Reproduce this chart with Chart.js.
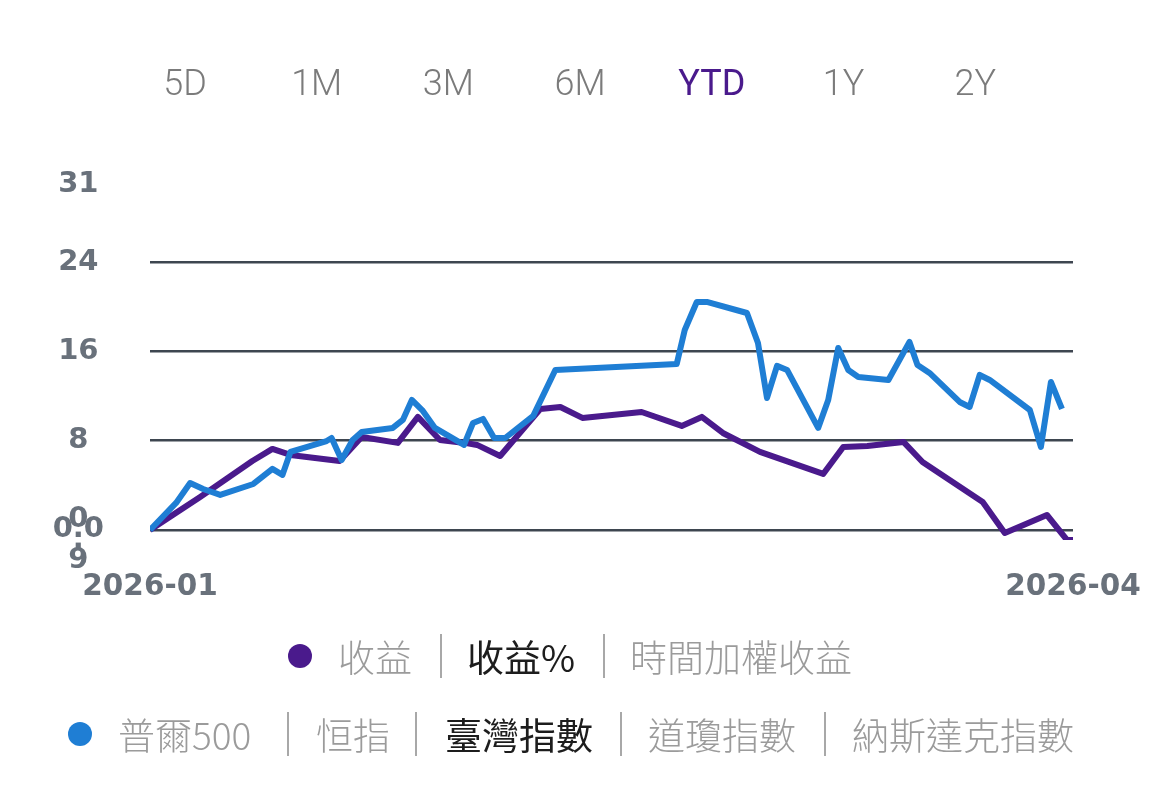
<!DOCTYPE html>
<html>
<head>
<meta charset="utf-8">
<script src="https://cdn.jsdelivr.net/npm/chart.js@4.4.1/dist/chart.umd.min.js"></script>
<style>
  html, body { margin: 0; padding: 0; background: #fff; }
  body { width: 1170px; height: 801px; position: relative; overflow: hidden;
         font-family: Roboto, "Noto Sans CJK TC", sans-serif; }
  #wrap { position: absolute; left: 0; top: 0; width: 1170px; height: 801px; }
  .tab { position: absolute; top: 63px; font-size: 36px; font-weight: 300; color: #7b7b7b;
         transform: translateX(-50%); line-height: 40px; }
  .tab.on { color: #4a1a8c; font-weight: 400; }
  .row { position: absolute; left: 0; width: 1170px; height: 50px; }
  .row span { position: absolute; top: 0; line-height: 50px; font-size: 37px; color: #9b9b9b;
              font-family: "Noto Sans CJK TC", Roboto, sans-serif; font-weight: 300; white-space: nowrap; }
  .row span.on { color: #1d1d1d; font-weight: 400; }
  .row i { position: absolute; top: 3px; width: 2px; height: 44px; background: #a8a8a8; }
  .row b { position: absolute; top: 13px; width: 24px; height: 24px; border-radius: 50%; }
</style>
</head>
<body>
<div id="wrap"><canvas id="grafico" width="1170" height="801"></canvas></div>

<div id="tabs"></div>

<div class="row" style="top:631px">
  <b style="left:288px;background:#4a1a8c"></b>
  <span style="left:338px">收益</span>
  <i style="left:440px"></i>
  <span class="on" style="left:467px">收益%</span>
  <i style="left:603px"></i>
  <span style="left:630px">時間加權收益</span>
</div>
<div class="row" style="top:709px">
  <b style="left:68px;background:#1f7ed4"></b>
  <span style="left:118px">普爾500</span>
  <i style="left:287px"></i>
  <span style="left:316px">恒指</span>
  <i style="left:415px"></i>
  <span class="on" style="left:445px">臺灣指數</span>
  <i style="left:620px"></i>
  <span style="left:648px">道瓊指數</span>
  <i style="left:824px"></i>
  <span style="left:852px">納斯達克指數</span>
</div>

<script>
// periods shown above the chart
const periodos = ["5D", "1M", "3M", "6M", "YTD", "1Y", "2Y"];
const periodoActivo = "YTD";

// days since 2026-01-01 and return % for the portfolio (purple)
const diasCartera = [0, 5.0, 10.2, 12.2, 14.0, 18.9, 21.1, 24.7, 26.7, 28.9, 31.4, 32.6, 34.9, 38.9, 40.9,
  43.1, 49.0, 53.0, 55.0, 57.1, 60.8, 67.1, 69.1, 71.5, 75.1, 77.0, 83.0, 85.2, 89.4, 91.4, 92.0];
const retornoCartera = [0, 2.96, 6.18, 7.26, 6.72, 6.18, 8.33, 7.80, 10.13, 8.06, 7.80, 7.62, 6.63, 10.84, 11.02,
  10.04, 10.57, 9.32, 10.13, 8.69, 6.99, 5.02, 7.44, 7.53, 7.89, 6.09, 2.51, -0.27, 1.34, -0.90, -0.90];

// days since 2026-01-01 and return % for 臺灣指數 (blue)
const diasIndice = [0, 2.6, 4.0, 5.3, 7.0, 10.3, 12.2, 13.2, 14.0, 17.6, 18.1, 19.1, 20.2, 21.1, 24.2, 25.2,
  26.1, 27.2, 28.4, 31.3, 32.2, 33.2, 34.3, 35.4, 38.2, 40.4, 52.5, 53.3, 54.5, 55.5, 59.5, 60.6, 61.5,
  62.5, 63.5, 66.6, 67.6, 68.6, 69.6, 70.6, 73.6, 75.7, 76.5, 77.7, 80.7, 81.7, 82.7, 83.7, 87.7, 88.8,
  89.8, 90.9];
const retornoIndice = [0, 2.42, 4.21, 3.67, 3.14, 4.12, 5.47, 4.93, 6.99, 7.97, 8.24, 6.27, 8.06, 8.78, 9.14, 9.86,
  11.65, 10.66, 9.14, 7.62, 9.59, 9.95, 8.24, 8.24, 10.22, 14.34, 14.87, 17.92, 20.43, 20.43, 19.44, 16.76, 11.83,
  14.70, 14.34, 9.14, 11.65, 16.31, 14.34, 13.71, 13.44, 16.85, 14.78, 14.07, 11.47, 11.02, 13.89, 13.44, 10.75, 7.44,
  13.26, 10.84];

// axis ticks
const ticksY = [-0.9, 0, 8, 16, 24, 31];
const etiquetasY = [["0", ".", "9"], "0.0", "8", "16", "24", "31"];
const lineasY = [0, 8, 16, 24];
const ticksX = [0, 92];
const etiquetasX = ["2026-01", "2026-04"];

const tabs = document.getElementById("tabs");
periodos.forEach((p, i) => {
  const s = document.createElement("span");
  s.className = "tab" + (p === periodoActivo ? " on" : "");
  s.style.left = (185 + i * 131.7) + "px";
  s.textContent = p;
  tabs.appendChild(s);
});

const puntos = (xs, ys) => xs.map((x, i) => ({ x: x, y: ys[i] }));
const gris = "#69717b";

let miGrafico = document.getElementById("grafico").getContext("2d");

new Chart(miGrafico, {
  type: "line",
  data: {
    datasets: [
      {
        label: "臺灣指數",
        data: puntos(diasIndice, retornoIndice),
        borderColor: "#1f7ed4",
        borderWidth: 6,
        pointRadius: 0,
        tension: 0,
        borderJoinStyle: "round"
      },
      {
        label: "收益%",
        data: puntos(diasCartera, retornoCartera),
        borderColor: "#4a1a8c",
        borderWidth: 6,
        pointRadius: 0,
        tension: 0,
        borderJoinStyle: "round"
      }
    ]
  },
  options: {
    responsive: false,
    animation: false,
    layout: { padding: { left: 0, right: 97, top: 184, bottom: 201 } },
    plugins: { legend: { display: false }, tooltip: { enabled: false } },
    scales: {
      x: {
        type: "linear",
        min: 0,
        max: 92,
        grid: { display: false },
        border: { display: false },
        afterBuildTicks: s => { s.ticks = ticksX.map(v => ({ value: v })); },
        afterFit: s => { s.height = 60; },
        ticks: {
          autoSkip: false,
          maxRotation: 0,
          padding: 22,
          color: gris,
          font: { family: "DejaVu Sans", weight: "bold", size: 29.5 },
          callback: v => etiquetasX[ticksX.indexOf(v)]
        }
      },
      y: {
        min: -0.9,
        max: 31,
        border: { display: false },
        grid: {
          drawTicks: false,
          lineWidth: 2.5,
          color: c => (lineasY.includes(c.tick && c.tick.value) ? "#3e4650" : "rgba(0,0,0,0)")
        },
        afterBuildTicks: s => { s.ticks = ticksY.map(v => ({ value: v })); },
        afterFit: s => { s.width = 150; },
        ticks: {
          autoSkip: false,
          crossAlign: "center",
          padding: 46,
          color: gris,
          font: { family: "DejaVu Sans", weight: "bold", size: 29, lineHeight: 0.7 },
          callback: v => etiquetasY[ticksY.indexOf(v)]
        }
      }
    }
  }
});
</script>
</body>
</html>
